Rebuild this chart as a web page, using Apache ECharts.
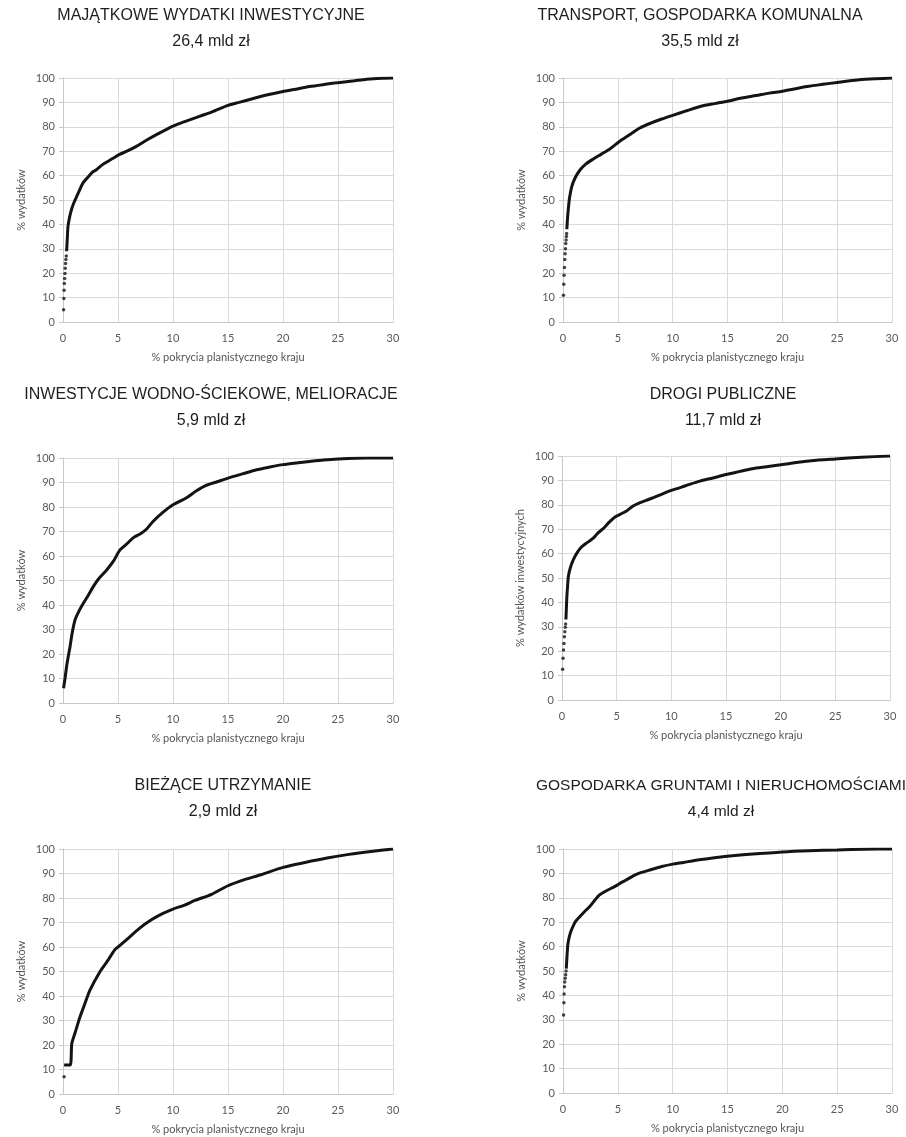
<!DOCTYPE html>
<html>
<head>
<meta charset="utf-8">
<script src="https://cdn.jsdelivr.net/npm/echarts@6/dist/echarts.min.js"></script>
<style>
  html, body { margin: 0; padding: 0; background: #ffffff; }
  #chart { width: 906px; height: 1137px; }
</style>
</head>
<body>
<div id="chart"></div>
<script>
// Panel titles and totals
const titles = [
  'MAJĄTKOWE WYDATKI INWESTYCYJNE',
  'TRANSPORT, GOSPODARKA KOMUNALNA',
  'INWESTYCJE WODNO-ŚCIEKOWE, MELIORACJE',
  'DROGI PUBLICZNE',
  'BIEŻĄCE UTRZYMANIE',
  'GOSPODARKA GRUNTAMI I NIERUCHOMOŚCIAMI'
];
const totals = ['26,4 mld zł', '35,5 mld zł', '5,9 mld zł', '11,7 mld zł', '2,9 mld zł', '4,4 mld zł'];
const yNames = ['% wydatków', '% wydatków', '% wydatków', '% wydatków inwestycyjnych', '% wydatków', '% wydatków'];
const xName = '% pokrycia planistycznego kraju';
const xTicks = [0, 5, 10, 15, 20, 25, 30];
const yTicks = [0, 10, 20, 30, 40, 50, 60, 70, 80, 90, 100];

// Cumulative curves: [% of country covered by plans, % of spending]
// Isolated points at the very start of each curve
const dots1 = [[0.05,5],[0.08,9.6],[0.1,13],[0.12,15.8],[0.15,17.8],[0.18,19.9],[0.2,22],[0.23,24],[0.26,25.6],[0.3,27]];
const curve1 = [[0.33,29],[0.4,35],[0.45,39],[0.6,43],[0.8,46.5],[1.0,49],[1.25,51.5],[1.5,54],[1.8,56.8],[2.3,59.5],[2.7,61.5],[3.0,62.3],[3.6,64.5],[4.55,67.1],[5.15,68.7],[5.76,69.9],[6.67,72],[7.58,74.5],[8.5,76.8],[10,80.3],[11,82],[12.4,84.3],[13.5,86],[15,88.8],[16,90],[17.3,91.6],[18.5,93],[20,94.5],[21,95.3],[22.4,96.5],[24,97.5],[25,98.1],[26.5,98.9],[27.6,99.5],[29,99.9],[30,100]];

const dots2 = [[0.04,11],[0.07,15.5],[0.1,19.2],[0.13,22.3],[0.16,25.6],[0.19,28],[0.22,30],[0.25,32.2],[0.28,33.6],[0.31,35],[0.33,36.3]];
const curve2 = [[0.35,38],[0.42,43],[0.5,47],[0.6,51],[0.8,55.5],[1.1,59],[1.55,62.3],[2.1,64.8],[2.76,66.8],[3.5,68.8],[4.3,71],[5.15,74],[6.0,76.5],[7.0,79.5],[8.0,81.5],[9.0,83.2],[10,84.7],[11.3,86.6],[12.6,88.4],[13.8,89.5],[15,90.5],[16.3,91.8],[17.6,92.8],[18.8,93.8],[20,94.6],[21.2,95.6],[22.4,96.6],[23.7,97.4],[25,98.2],[26,98.8],[27,99.3],[28.5,99.7],[30,100]];

const dots3 = [];
const curve3 = [[0.05,6],[0.2,10.5],[0.33,15],[0.5,19.5],[0.64,23],[0.85,29],[1.1,34],[1.45,37.5],[1.85,40.7],[2.3,44],[2.75,47.5],[3.3,51],[3.97,54.3],[4.6,58],[5.15,62.3],[5.7,64.5],[6.4,67.5],[7.12,69.3],[7.6,71],[8.18,74.1],[9.0,77.5],[10,80.9],[11.2,83.7],[12.1,86.5],[13,88.8],[14,90.3],[15,91.8],[16.3,93.5],[17.6,95.2],[18.8,96.3],[20,97.3],[21.2,98],[22.4,98.6],[23.7,99.2],[25,99.6],[27.6,100],[30,100]];

const dots4 = [[0.06,12.6],[0.1,17.1],[0.14,20.5],[0.18,23.2],[0.22,25.9],[0.26,28],[0.3,29.8],[0.33,31.1]];
const curve4 = [[0.36,33],[0.43,41],[0.5,46],[0.58,50.5],[0.75,54],[1.03,57.4],[1.4,60.5],[1.8,62.8],[2.3,64.5],[2.86,66.3],[3.3,68.5],[3.8,70.4],[4.3,72.8],[4.85,75],[5.32,76.1],[5.9,77.5],[6.5,79.5],[7.14,80.9],[7.7,81.8],[8.36,82.9],[9.2,84.5],[10,85.9],[11.3,87.8],[12.6,89.7],[13.8,91],[15,92.4],[16.2,93.6],[17.4,94.8],[18.7,95.6],[20,96.4],[21.4,97.3],[22.8,98.1],[25,98.8],[27.4,99.5],[30,100]];

const dots5 = [[0.1,7]];
const curve5 = [[0.1,11.8],[0.65,11.8],[0.8,20.6],[1.1,25],[1.55,31.5],[2,37],[2.45,42.4],[3.36,49.9],[4,54],[4.7,58.8],[5.0,60],[5.76,62.9],[6.97,67.7],[8,71],[9,73.5],[10,75.5],[11,77],[12,79],[13.5,81.5],[15,85],[16.5,87.5],[18,89.5],[20,92.5],[22,94.5],[24,96.3],[26,97.8],[28,99],[30,100]];

const dots6 = [[0.05,32],[0.08,37],[0.1,40.6],[0.13,43.5],[0.16,45.5],[0.2,47],[0.24,48.5],[0.28,50]];
const curve6 = [[0.3,51],[0.35,55],[0.4,58.5],[0.45,61.2],[0.6,64.5],[0.76,66.7],[1.1,70],[1.52,72.2],[2.0,74.5],[2.42,76.3],[2.9,79],[3.33,81.2],[4,83],[4.7,84.6],[5.3,86.2],[5.76,87.3],[6.4,89],[6.97,90.1],[8,91.5],[9,92.8],[10,93.8],[11,94.5],[12,95.3],[13.5,96.2],[15,97],[17,97.8],[20,98.8],[22.5,99.3],[25,99.6],[27.5,99.9],[30,100]];

const dotSets = [dots1, dots2, dots3, dots4, dots5, dots6];
const curveSets = [curve1, curve2, curve3, curve4, curve5, curve6];

// Layout of the six plot areas (pixels)
const grids = [
  { left: 63,  top: 78,  width: 330, height: 244 },
  { left: 563, top: 78,  width: 329, height: 244 },
  { left: 63,  top: 458, width: 330, height: 245 },
  { left: 562, top: 456, width: 328, height: 244 },
  { left: 63,  top: 849, width: 330, height: 245 },
  { left: 563, top: 849, width: 329, height: 244 }
];
const titlePos = [
  { x: 206, y: -2,  size: 16 }, { x: 695, y: -2,  size: 16 },
  { x: 206, y: 377, size: 16 }, { x: 718, y: 377, size: 16 },
  { x: 218, y: 768, size: 16 }, { x: 716, y: 768, size: 15.5 }
];

const labelFont = 'Lato, Calibri, Carlito, sans-serif';
const gridColor = '#d9d9d9';
const inkColor = '#141414';

const option = {
  backgroundColor: '#ffffff',
  animation: false,
  title: titles.map((t, i) => ({
    text: t + '\n' + totals[i],
    left: titlePos[i].x,
    top: titlePos[i].y,
    textAlign: 'center',
    textStyle: {
      fontFamily: "'Liberation Sans Narrow', 'Arial Narrow', 'Liberation Sans', sans-serif",
      fontSize: titlePos[i].size,
      fontWeight: 'normal',
      color: '#1e1e1e',
      lineHeight: 26,
      align: 'center'
    }
  })),
  grid: grids.map(g => Object.assign({ containLabel: false }, g)),
  xAxis: grids.map((g, i) => ({
    type: 'value',
    gridIndex: i,
    min: xTicks[0],
    max: xTicks[xTicks.length - 1],
    interval: 5,
    name: xName,
    nameLocation: 'middle',
    nameGap: 30,
    nameTextStyle: { fontFamily: labelFont, fontSize: 11, color: '#555555' },
    axisLine: { show: true, lineStyle: { color: '#c8c8c8', width: 1 } },
    axisTick: { show: false },
    axisLabel: { fontFamily: labelFont, fontSize: 11, color: '#595959', margin: 11 },
    splitLine: { show: true, lineStyle: { color: gridColor, width: 1 } }
  })),
  yAxis: grids.map((g, i) => ({
    type: 'value',
    gridIndex: i,
    min: yTicks[0],
    max: yTicks[yTicks.length - 1],
    interval: 10,
    name: yNames[i],
    nameLocation: 'middle',
    nameGap: 36,
    nameRotate: 90,
    nameTextStyle: { fontFamily: labelFont, fontSize: 11, color: '#555555' },
    axisLine: { show: true, lineStyle: { color: '#c8c8c8', width: 1 } },
    axisTick: { show: true, length: 4, lineStyle: { color: '#c8c8c8' } },
    axisLabel: { fontFamily: labelFont, fontSize: 11, color: '#595959', margin: 8 },
    splitLine: { show: true, lineStyle: { color: gridColor, width: 1 } }
  })),
  series: []
};

curveSets.forEach((c, i) => {
  option.series.push({
    type: 'line',
    xAxisIndex: i,
    yAxisIndex: i,
    data: c,
    showSymbol: false,
    symbol: 'none',
    smooth: 0.25,
    lineStyle: { color: inkColor, width: 3 },
    z: 3
  });
  if (dotSets[i].length) {
    option.series.push({
      type: 'scatter',
      xAxisIndex: i,
      yAxisIndex: i,
      data: dotSets[i],
      symbol: 'circle',
      symbolSize: 3.5,
      itemStyle: { color: inkColor },
      z: 4
    });
  }
});

const chart = echarts.init(document.getElementById('chart'), null, { renderer: 'canvas' });
chart.setOption(option);
</script>
</body>
</html>
